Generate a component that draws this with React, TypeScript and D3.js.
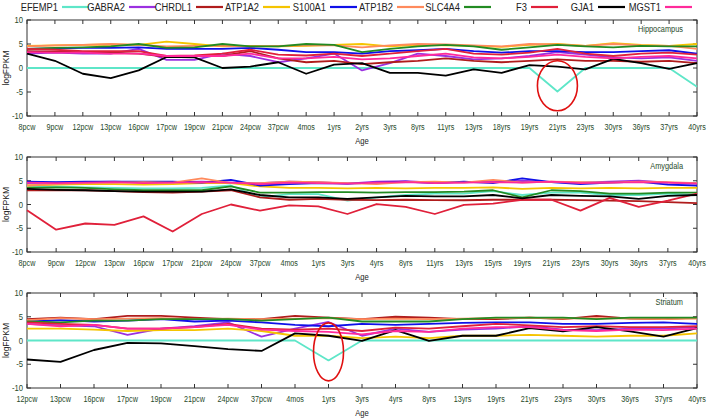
import React from "react";
import * as d3 from "d3";

const genes = ["EFEMP1", "GABRA2", "CHRDL1", "ATP1A2", "S100A1", "ATP1B2", "SLC4A4", "F3", "GJA1", "MGST1"];
const geneColors = ["#5ee6c8", "#9b30e0", "#b01c1c", "#f5c400", "#1010e8", "#ff8a5c", "#228b22", "#e0203a", "#000000", "#ff2a9a"];

const yTicks = [-10, -5, 0, 5, 10];

// Hippocampus
const hipCategories = ["8pcw", "9pcw", "12pcw", "13pcw", "16pcw", "17pcw", "19pcw", "21pcw", "24pcw", "37pcw", "4mos", "1yrs", "2yrs", "3yrs", "8yrs", "11yrs", "13yrs", "18yrs", "19yrs", "21yrs", "23yrs", "30yrs", "36yrs", "37yrs", "40yrs"];
const hipEFEMP1 = [0, 0, 0, 0, 0, 0, 0, 0, 0, 0, 0, 0, 0, 0, 0, 0, 0, 0, 0, -4.9, 0, 0, 0, 0, -3.9];
const hipGABRA2 = [3, 3.2, 3, 3, 4, 1.7, 1.7, 3, 2.5, 1.2, 2, 3, -0.5, 1, 3, 2.5, 1.8, 2, 2.5, 3.3, 2.8, 2.2, 2, 2.2, 1.5];
const hipCHRDL1 = [3.5, 3.4, 3.3, 3.2, 3, 2.3, 2.5, 2.5, 3.5, 2, 1.2, 1.5, 0.8, 1.2, 1.5, 2, 1.5, 1.2, 1.5, 1.8, 1.5, 1.5, 1.3, 1.5, 1];
const hipATP1A2 = [4.6, 4.7, 4.8, 4.9, 4.8, 5.5, 5, 4.5, 4.6, 4.5, 4.6, 4.8, 5, 4.5, 4.8, 4.7, 4.6, 4.4, 4.8, 5, 4.6, 5.2, 4.8, 4.6, 5];
const hipS100A1 = [4, 4.1, 4.2, 4.2, 4.3, 4, 4, 4, 4.2, 3.8, 3.3, 3.3, 3, 3.5, 3.7, 4, 3.5, 3.2, 3.5, 3.5, 3.3, 3.3, 3.5, 3.7, 3];
const hipATP1B2 = [4.5, 4.7, 4.8, 5, 4.8, 4.5, 4.6, 4.6, 4.5, 4.6, 4.7, 4.7, 4.3, 4.7, 5, 4.9, 4.7, 4.5, 5, 4.9, 4.6, 5, 4.7, 4.6, 4];
const hipSLC4A4 = [4, 4.2, 4.3, 4.5, 5, 4.2, 4.3, 5, 4.5, 4.5, 5, 4.8, 3.3, 4, 4.5, 4.8, 4.5, 3.8, 4.3, 4.8, 4.5, 4.3, 4.6, 4.5, 4.5];
const hipF3 = [4, 3.8, 3.5, 3.5, 3.5, 2.5, 2.6, 3, 3.8, 2.8, 2.6, 3, 2.5, 3, 3.5, 4, 3, 2.8, 3.2, 4, 3, 2.5, 3, 3.2, 2.8];
const hipGJA1 = [3, 1.5, -1.2, -2.1, -0.5, 2.3, 2.2, 0, 0.3, 1.2, -1.2, 0.7, 1, -1, -1, -1.6, -0.3, -1, 0.6, 0.3, -0.3, 1.9, 1, -0.2, 1];
const hipMGST1 = [3.3, 3.2, 3.2, 3, 3, 2.5, 2.5, 2.5, 3, 2, 2, 2.3, 1.8, 2, 2.5, 3, 2.2, 2, 2.3, 2.8, 2.3, 2, 2.3, 2.5, 2];

// Amygdala
const amyCategories = ["8pcw", "9pcw", "12pcw", "13pcw", "16pcw", "17pcw", "21pcw", "24pcw", "37pcw", "4mos", "1yrs", "3yrs", "4yrs", "8yrs", "11yrs", "13yrs", "15yrs", "19yrs", "21yrs", "23yrs", "30yrs", "36yrs", "37yrs", "40yrs"];
const amyEFEMP1 = [3.8, 3.8, 3.6, 3.5, 3.4, 3.4, 3.5, 4, 1.5, 2.2, 2.2, 0.8, 1.5, 2, 2.3, 2.3, 2.8, 2, 2.5, 2.5, 2, 2, 2.3, 2];
const amyGABRA2 = [4.5, 4.6, 4.7, 4.8, 4.6, 4.7, 4.8, 4.6, 4.5, 4.8, 4.7, 4.4, 4.8, 4.9, 4.6, 4.7, 4.8, 5, 4.7, 4.6, 4.8, 5, 4.6, 4.5];
const amyCHRDL1 = [3, 3, 3, 2.8, 2.6, 2.5, 2.7, 3, 1.5, 1, 1.2, 1, 0.9, 1, 0.9, 0.9, 1, 1, 1, 0.9, 0.8, 0.7, 0.5, 0.3];
const amyATP1A2 = [4, 4.2, 4.3, 4.3, 4.2, 4.3, 4.5, 4.5, 3.8, 3.5, 3.5, 3.4, 3.5, 3.4, 3.5, 3.5, 3.6, 3.3, 3.5, 3.4, 3.5, 3.4, 3.5, 3.5];
const amyS100A1 = [4.8, 4.7, 4.8, 4.8, 4.8, 4.8, 4.6, 5.2, 4, 4.3, 4.5, 4.4, 4.6, 4.8, 4.5, 4.8, 4.5, 5.5, 4.7, 4.3, 4.6, 4.8, 4.2, 4];
const amyATP1B2 = [4, 4.3, 4.5, 4.6, 4.7, 4.6, 5.5, 4.5, 4.5, 4.8, 4.7, 4.5, 4.3, 4.7, 4.8, 4.6, 5.2, 4.6, 4.8, 4.7, 4.6, 4.8, 4.7, 4.5];
const amySLC4A4 = [3.5, 3.6, 3.5, 3.2, 3, 3, 3, 3.8, 2.5, 2.5, 2.6, 2.6, 2.5, 2.6, 2.6, 2.7, 3, 1.5, 3, 2.8, 2.3, 2.3, 2.5, 2.5];
const amyF3 = [-1.2, -5.3, -4, -4.3, -2.5, -5.7, -2, 0, -1.3, -0.2, -0.4, -2, 0.1, -0.5, -2, -0.1, 0.2, 1, 1, -1.3, 1.4, -0.5, 0.8, 2.3];
const amyGJA1 = [3.3, 3.1, 3, 2.8, 2.7, 2.7, 2.7, 3.2, 2, 1.5, 1.5, 1.2, 1.5, 1.8, 1.7, 1.7, 2, 1.3, 2, 1.8, 1.7, 1.2, 1.8, 2];
const amyMGST1 = [4.6, 4.5, 4.6, 4.7, 4.5, 4.6, 4.7, 4.6, 4.3, 4.6, 4.5, 4.4, 4.6, 4.7, 4.5, 4.6, 4.7, 4.6, 4.8, 4.5, 4.6, 4.7, 4.6, 4.4];

// Striatum
const strCategories = ["12pcw", "13pcw", "16pcw", "17pcw", "19pcw", "21pcw", "24pcw", "37pcw", "4mos", "1yrs", "3yrs", "4yrs", "8yrs", "13yrs", "19yrs", "21yrs", "23yrs", "30yrs", "36yrs", "37yrs", "40yrs"];
const strEFEMP1 = [0, 0, 0, 0, 0, 0, 0, 0, 0, -4.2, 0, 0, 0, 0, 0, 0, 0, 0, 0, 0, 0];
const strGABRA2 = [3.5, 3.2, 3, 1.2, 2.5, 3, 3.8, 0.8, 2.5, 3.9, 1, 2.5, 1.8, 2.3, 2.5, 3, 2.3, 2.2, 2.5, 2.5, 2.8];
const strCHRDL1 = [4.5, 4.8, 4.5, 5.2, 5.2, 4.8, 4.5, 4.5, 5.2, 4.8, 4.5, 5, 4.8, 4.5, 4.5, 4.8, 4.5, 5.2, 4.6, 4.5, 4.8];
const strATP1A2 = [2.5, 2.5, 2.3, 2, 2.2, 2.2, 2.5, 2, 1, 1, 0.5, 0.8, 0.5, 1, 1, 1.2, 1, 0.8, 1, 1, 1.5];
const strS100A1 = [4, 4.3, 4, 4.2, 4.5, 4, 4.2, 3.8, 3.3, 3, 3.5, 3.3, 3.5, 3.7, 3.8, 3.8, 3.5, 3.5, 3.7, 3.8, 3.5];
const strATP1B2 = [4.3, 4.7, 4.5, 4.6, 4.7, 4.5, 4.6, 4.5, 4.6, 4.7, 4.5, 4.6, 4.5, 4.6, 4.7, 4.8, 4.6, 4.7, 4.6, 4.5, 4.6];
const strSLC4A4 = [4, 3.8, 4.2, 4.2, 4.5, 4.5, 4.5, 4.2, 4.5, 4.8, 4, 4, 4, 4.5, 4.8, 4.8, 4.8, 4.5, 4.8, 4.8, 4.8];
const strF3 = [3.8, 3.5, 3.3, 2.5, 2.5, 2.8, 3.5, 2.5, 2.3, 2.5, 2, 2.7, 2.5, 3, 3.5, 3.2, 2.8, 3, 2.8, 2.8, 3];
const strGJA1 = [-4, -4.5, -2, -0.5, -0.6, -1.2, -1.8, -2.2, 1.5, 1, -0.1, 2.2, -0.1, 1, 1, 2.6, 1.9, 2.8, 1.9, 0.8, 2.6];
const strMGST1 = [3.5, 3, 3.3, 2.5, 2.5, 2.8, 3.3, 2.3, 2, 1.8, 1.3, 2, 1.8, 2.5, 2.8, 2.8, 2.2, 2, 2.3, 2.2, 2.5];

const panels = [
  {
    name: "Hippocampus", categories: hipCategories, top: 20, bottom: 116,
    series: [hipEFEMP1, hipGABRA2, hipCHRDL1, hipATP1A2, hipS100A1, hipATP1B2, hipSLC4A4, hipF3, hipGJA1, hipMGST1],
    circle: { cat: "21yrs", v: -3.7, rx: 20, ry: 25 },
  },
  {
    name: "Amygdala", categories: amyCategories, top: 157, bottom: 252,
    series: [amyEFEMP1, amyGABRA2, amyCHRDL1, amyATP1A2, amyS100A1, amyATP1B2, amySLC4A4, amyF3, amyGJA1, amyMGST1],
    circle: null,
  },
  {
    name: "Striatum", categories: strCategories, top: 293, bottom: 388,
    series: [strEFEMP1, strGABRA2, strCHRDL1, strATP1A2, strS100A1, strATP1B2, strSLC4A4, strF3, strGJA1, strMGST1],
    circle: { cat: "1yrs", v: -2.4, rx: 15, ry: 29 },
  },
];

const LEFT = 27;
const RIGHT = 697;
const tickColor = "#1f4a2a";
const font = "'Liberation Sans', Arial, sans-serif";

function NarrowText({ x, y, size, anchor, fill, sx, children }: any) {
  return (
    <text
      transform={`translate(${x},${y}) scale(${sx},1)`}
      textAnchor={anchor}
      fontSize={size}
      fontFamily={font}
      fill={fill}
    >
      {children}
    </text>
  );
}

function Panel({ p }: { p: typeof panels[number] }) {
  const x = d3.scalePoint<string>().domain(p.categories).range([LEFT, RIGHT]);
  const y = d3.scaleLinear().domain([-10, 10]).range([p.bottom, p.top]);
  const line = d3
    .line<number>()
    .x((_, i) => x(p.categories[i]) as number)
    .y((d) => y(d));
  return (
    <g>
      <rect x={LEFT} y={p.top} width={RIGHT - LEFT} height={p.bottom - p.top} fill="white" stroke="#333" strokeWidth={1} />
      {p.categories.map((c) => (
        <g key={c}>
          <line x1={x(c)} x2={x(c)} y1={p.bottom} y2={p.bottom - 4} stroke="#333" />
          <line x1={x(c)} x2={x(c)} y1={p.top} y2={p.top + 4} stroke="#333" />
          <NarrowText x={x(c)} y={p.bottom + 14} size={9} anchor="middle" fill={tickColor} sx={0.8}>
            {c}
          </NarrowText>
        </g>
      ))}
      {yTicks.map((t) => (
        <g key={t}>
          <line x1={LEFT} x2={LEFT + 4} y1={y(t)} y2={y(t)} stroke="#333" />
          <line x1={RIGHT} x2={RIGHT - 4} y1={y(t)} y2={y(t)} stroke="#333" />
          <NarrowText x={LEFT - 4} y={y(t) + 3} size={9} anchor="end" fill={tickColor} sx={0.85}>
            {t}
          </NarrowText>
        </g>
      ))}
      <text
        transform={`translate(9,${(p.top + p.bottom) / 2}) rotate(-90)`}
        textAnchor="middle"
        fontSize={8.5}
        fontFamily={font}
        fill="#222"
      >
        logFPKM
      </text>
      <NarrowText x={362} y={p.bottom + 28} size={9} anchor="middle" fill="#222" sx={0.85}>
        Age
      </NarrowText>
      <NarrowText x={RIGHT - 14} y={p.top + 12} size={9} anchor="end" fill={tickColor} sx={0.82}>
        {p.name}
      </NarrowText>
      {p.series.map((vals, i) => (
        <path key={genes[i]} d={line(vals) ?? ""} fill="none" stroke={geneColors[i]} strokeWidth={1.8} strokeLinejoin="round" />
      ))}
      {p.circle && (
        <ellipse
          cx={x(p.circle.cat)}
          cy={y(p.circle.v)}
          rx={p.circle.rx}
          ry={p.circle.ry}
          fill="none"
          stroke="#e01010"
          strokeWidth={1.6}
        />
      )}
    </g>
  );
}

export default function App() {
  const legendX = d3.scaleLinear().domain([0, 1]).range([62, 129]);
  return (
    <svg
      width={708}
      height={420}
      style={{ position: "absolute", left: 0, top: 0, background: "white" }}
    >
      <rect width={708} height={420} fill="white" />
      {genes.map((g, i) => {
        const sx = legendX(i);
        return (
          <g key={g}>
            <NarrowText x={sx - 4} y={11} size={11} anchor="end" fill="#222" sx={0.85}>
              {g}
            </NarrowText>
            <line x1={sx} x2={sx + 27} y1={7} y2={7} stroke={geneColors[i]} strokeWidth={2.2} />
          </g>
        );
      })}
      {panels.map((p) => (
        <Panel key={p.name} p={p} />
      ))}
    </svg>
  );
}
